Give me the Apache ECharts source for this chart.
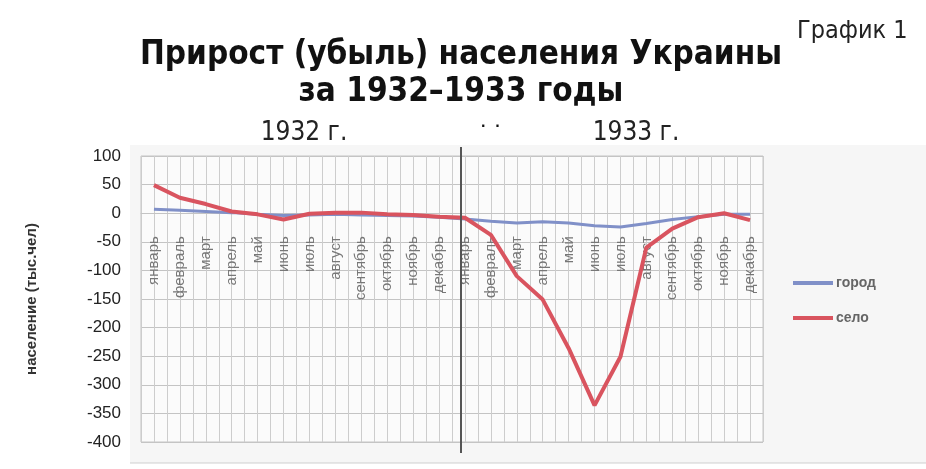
<!DOCTYPE html>
<html><head><meta charset="utf-8">
<script src="https://cdn.jsdelivr.net/npm/echarts@6/dist/echarts.min.js"></script>
<style>html,body{margin:0;padding:0;background:#fff}#c{width:926px;height:469px}</style>
</head><body><div id="c"></div>
<script>
const months = ['январь','февраль','март','апрель','май','июнь','июль','август','сентябрь','октябрь','ноябрь','декабрь'];
const years = ['1932','1933'];
const gorod = [7,5,3,1,-2,-4,-3,-2,-3,-4,-5,-7, -10,-14,-17,-15,-17,-22,-24,-18,-11,-6,-2,-2];
const selo  = [49,27,16,3,-2,-11,-1,1,1,-2,-3,-6, -8,-38,-110,-151,-236,-336,-251,-60,-27,-7,0,-12];
const yMin = -400, yMax = 100, yStep = 50;
const seriesNames = ['город','село'];
const yearLabels = ['1932 г.','1933 г.'];

const categories = years.flatMap(y => months.map(m => m + '|' + y));
const halfCells = categories.flatMap(c => [c + '|a', c + '|b']);

const NARROW = '"Liberation Sans Narrow","Arial Narrow","DejaVu Sans Condensed",sans-serif';
const SANS = '"Liberation Sans",Arial,sans-serif';
const CH = 469, GT = 156, GB = 27;
const GRID = {left:141, right:163, top:GT, bottom:GB, outerBoundsMode:'none', containLabel:false};
// place the category axis at value 0 of the y scale
const zeroOffset = -(CH - GT - GB) * (0 - yMin) / (yMax - yMin);

const chart = echarts.init(document.getElementById('c'), null, {renderer:'canvas'});
chart.setOption({
  backgroundColor:'#fff',
  animation:false,
  graphic:[
    {type:'rect', shape:{x:130,y:145,width:796,height:318}, style:{fill:'#f6f6f6'}, z:-10},
    {type:'line', shape:{x1:130,y1:463,x2:926,y2:463}, style:{stroke:'#cfcfcf',lineWidth:1}, z:-9},
    {type:'line', shape:{x1:461,y1:147,x2:461,y2:453}, style:{stroke:'#555',lineWidth:2}, z:50},
    {type:'text', left:481, top:119, style:{text:'·  ·', font:'bold 16px '+SANS, fill:'#111'}}
  ],
  title:[
    {text:'Прирост (убыль) населения Украины\nза 1932–1933 годы', left:456, top:32, textAlign:'center',
     textStyle:{fontFamily:NARROW, fontWeight:'bold', fontSize:33, lineHeight:37, color:'#111'}},
    {text:'График 1', left:792, top:14, textStyle:{fontFamily:NARROW, fontWeight:'normal', fontSize:25, color:'#222'}},
    {text:yearLabels[0], left:299, top:115, textAlign:'center', textStyle:{fontFamily:NARROW, fontWeight:'normal', fontSize:26, color:'#222'}},
    {text:yearLabels[1], left:631, top:115, textAlign:'center', textStyle:{fontFamily:NARROW, fontWeight:'normal', fontSize:26, color:'#222'}}
  ],
  legend:{
    data:seriesNames, orient:'vertical', left:793, top:276, padding:0, icon:'rect', itemWidth:40, itemHeight:4, itemGap:21,
    textStyle:{fontFamily:SANS, fontSize:14, fontWeight:'bold', color:'#666', padding:[0,0,0,-2]}
  },
  grid:[
    Object.assign({show:true, backgroundColor:'#fbfbfb', borderColor:'#c4c4c4', borderWidth:1}, GRID),
    Object.assign({show:false}, GRID)
  ],
  xAxis:[
    {type:'category', gridIndex:0, data:categories, boundaryGap:true, position:'bottom', offset:zeroOffset,
     axisLine:{show:true, onZero:false, lineStyle:{color:'#c4c4c4'}},
     axisTick:{show:false},
     splitLine:{show:false},
     axisLabel:{interval:0, rotate:90, margin:23, fontFamily:SANS, fontSize:15, color:'#777',
       formatter:v => v.split('|')[0]}},
    {type:'category', gridIndex:1, data:halfCells, boundaryGap:true, position:'bottom',
     axisLine:{show:false, onZero:false}, axisTick:{show:false}, axisLabel:{show:false},
     splitLine:{show:true, interval:0, lineStyle:{color:'#cdcdcd', width:1}}}
  ],
  yAxis:[
    {type:'value', gridIndex:0, min:yMin, max:yMax, interval:yStep,
    name:'население (тыс.чел)', nameLocation:'middle', nameRotate:90, nameGap:102,
    nameTextStyle:{fontFamily:SANS, fontWeight:'bold', fontSize:15, color:'#333'},
    axisLine:{show:false}, axisTick:{show:false},
    axisLabel:{margin:20, fontFamily:SANS, fontSize:17, color:'#222'},
    splitLine:{show:true, lineStyle:{color:'#c4c4c4', width:1}}},
    {type:'value', gridIndex:1, min:0, max:1, show:false}
  ],
  series:[
    {name:seriesNames[0], type:'line', data:gorod, xAxisIndex:0, yAxisIndex:0, symbol:'none', smooth:false,
     lineStyle:{color:'#8090c8', width:3}, itemStyle:{color:'#8090c8'}, z:3},
    {name:seriesNames[1], type:'line', data:selo, xAxisIndex:0, yAxisIndex:0, symbol:'none', smooth:false,
     lineStyle:{color:'#d9545f', width:4}, itemStyle:{color:'#d9545f'}, z:4}
  ]
});
</script></body></html>
